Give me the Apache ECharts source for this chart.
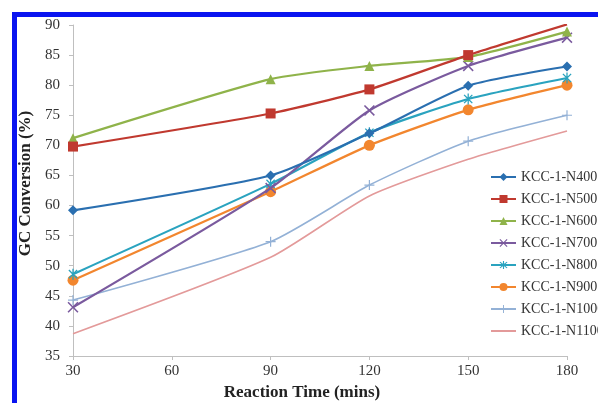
<!DOCTYPE html>
<html>
<head>
<meta charset="utf-8">
<script src="https://cdn.jsdelivr.net/npm/echarts@6/dist/echarts.min.js"></script>
<style>
  html, body { margin: 0; padding: 0; background: #fff; }
  #chart { width: 598px; height: 403px; }
</style>
</head>
<body>
<div id="chart"></div>
<script>
(function () {
    // reaction time (mins)
    const times = [30, 90, 120, 150, 180];
    const xTicks = [30, 60, 90, 120, 150, 180];

    // GC conversion (%)
    const n400 = [59.2, 65.0, 72.0, 79.9, 83.1];
    const n500 = [69.8, 75.3, 79.3, 85.0, 90.1];
    const n600 = [71.2, 81.0, 83.2, 84.7, 88.9];
    const n700 = [43.1, 62.9, 75.8, 83.2, 87.9];
    const n800 = [48.6, 63.6, 72.1, 77.7, 81.2];
    const n900 = [47.6, 62.3, 70.0, 75.9, 80.0];
    const n1000 = [44.3, 54.0, 63.4, 70.7, 75.0];
    const n1100 = [38.7, 51.4, 61.6, 67.7, 72.4];

    const names = ['KCC-1-N400', 'KCC-1-N500', 'KCC-1-N600', 'KCC-1-N700',
        'KCC-1-N800', 'KCC-1-N900', 'KCC-1-N1000', 'KCC-1-N1100'];
    const values = [n400, n500, n600, n700, n800, n900, n1000, n1100];

    const colors = ['#2a6fb0', '#c0392f', '#8fb34a', '#7a5a9e', '#2aa3bf', '#f2862e', '#93b1d6', '#e39a9a'];

    // marker shapes (the N1100 dash marker is practically invisible, so none)
    const sym = {
        cross: 'path://M1,0L5,4L9,0L10,1L6,5L10,9L9,10L5,6L1,10L0,9L4,5L0,1Z',
        star: 'path://M1,0L5,4L9,0L10,1L6,5L10,9L9,10L5,6L1,10L0,9L4,5L0,1Z M4.3,-1L5.7,-1L5.7,11L4.3,11Z',
        plus: 'path://M4.4,0H5.6V4.4H10V5.6H5.6V10H4.4V5.6H0V4.4H4.4Z'
    };
    const symbols = ['diamond', 'rect', 'triangle', sym.cross, sym.star, 'circle', sym.plus, 'none'];
    const symbolSizes = [10, 10, 10, 11, 11, 11, 10, 0];
    const widths = [2.2, 2.2, 2.2, 2.2, 2.2, 2.2, 1.6, 1.6];

    const serif = '"Liberation Serif", "DejaVu Serif", serif';

    const series = names.map((name, i) => ({
        name,
        type: 'line',
        smooth: 0.2,
        symbol: symbols[i],
        symbolSize: symbolSizes[i],
        symbolKeepAspect: true,
        showSymbol: true,
        data: times.map((t, j) => [t, values[i][j]]),
        lineStyle: { color: colors[i], width: widths[i] },
        itemStyle: { color: colors[i] },
        z: 10 - i
    }));

    const legendData = names.map((name, i) =>
        symbols[i] === 'none' ? { name, itemStyle: { opacity: 0 } } : { name });

    const option = {
        animation: false,
        backgroundColor: '#fff',
        grid: { left: 73, right: 31, top: 25, bottom: 47, containLabel: false, outerBoundsMode: 'none' },
        legend: {
            orient: 'vertical',
            left: 485,
            top: 165,
            itemWidth: 25,
            itemHeight: 10,
            itemGap: 8,
            data: legendData,
            textStyle: { fontFamily: serif, fontSize: 14, color: '#333' }
        },
        xAxis: {
            type: 'value',
            min: 30,
            max: 180,
            interval: 30,
            name: 'Reaction Time (mins)',
            nameLocation: 'middle',
            nameGap: 26,
            nameTextStyle: {
                fontFamily: serif, fontSize: 17, fontWeight: 'bold', color: '#222',
                padding: [0, 36, 0, 0]
            },
            axisLine: { lineStyle: { color: '#bfbfbf', width: 1 } },
            axisTick: { show: true, length: 4, lineStyle: { color: '#bfbfbf' } },
            axisLabel: {
                fontFamily: serif, fontSize: 15, color: '#333', margin: 8,
                formatter: v => xTicks.includes(v) ? String(v) : ''
            },
            splitLine: { show: false }
        },
        yAxis: {
            type: 'value',
            min: 35,
            max: 90,
            interval: 5,
            name: 'GC Conversion (%)',
            nameLocation: 'middle',
            nameGap: 31,
            nameTextStyle: {
                fontFamily: serif, fontSize: 17, fontWeight: 'bold', color: '#222',
                padding: [0, 0, 0, 14]
            },
            axisLine: { show: true, lineStyle: { color: '#bfbfbf', width: 1 } },
            axisTick: { show: true, length: 4, lineStyle: { color: '#bfbfbf' } },
            axisLabel: { fontFamily: serif, fontSize: 15, color: '#333', margin: 13 },
            splitLine: { show: false }
        },
        graphic: [
            {
                type: 'rect',
                shape: { x: 14.5, y: 14.5, width: 640, height: 420 },
                style: { fill: 'none', stroke: '#0a14f0', lineWidth: 5 },
                silent: true,
                z: 100
            }
        ],
        series
    };

    const myChart = echarts.init(document.getElementById('chart'));
    myChart.setOption(option);
})();
</script>
</body>
</html>
